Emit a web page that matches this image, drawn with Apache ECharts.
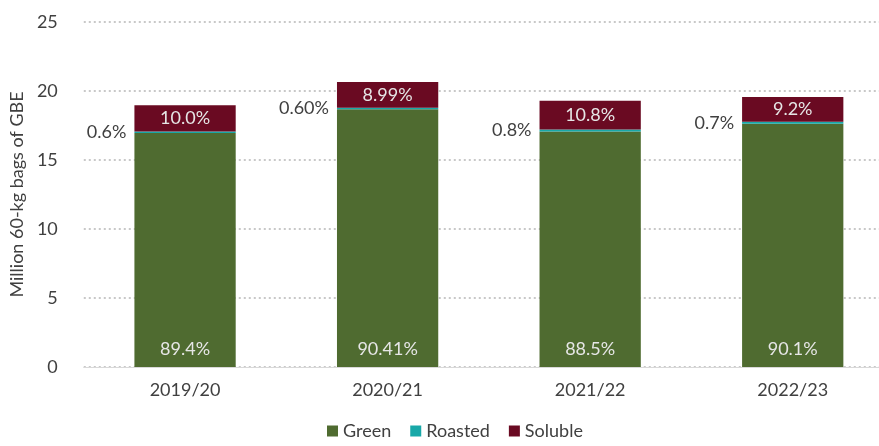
<!DOCTYPE html>
<html>
<head>
<meta charset="utf-8">
<script src="https://cdn.jsdelivr.net/npm/echarts@6/dist/echarts.min.js"></script>
<style>
  html, body { margin: 0; padding: 0; background: #fff; overflow: hidden; }
  #main { width: 894px; height: 446px; }
</style>
</head>
<body>
<div id="main"></div>
<script>
var years = ['2019/20', '2020/21', '2021/22', '2022/23'];
var green = [16.96, 18.67, 17.06, 17.63];
var roasted = [0.11, 0.12, 0.15, 0.14];
var soluble = [1.90, 1.86, 2.08, 1.80];
var greenPct = ['89.4%', '90.41%', '88.5%', '90.1%'];
var roastedPct = ['0.6%', '0.60%', '0.8%', '0.7%'];
var solublePct = ['10.0%', '8.99%', '10.8%', '9.2%'];

var font = 'Lato, "Open Sans", sans-serif';

window.onload = function () {
    // chart canvas is a bit wider than the window, the plot runs off the right edge like the original
    var chart = echarts.init(document.getElementById('main'));
    var option = {
        animation: false,
        textStyle: { fontFamily: font },
        legend: {
            bottom: 1,
            left: 322,
            itemWidth: 11,
            itemHeight: 11,
            itemGap: 19,
            icon: 'rect',
            textStyle: { fontSize: 18, color: '#404040', fontFamily: font },
            data: ['Green', 'Roasted', 'Soluble']
        },
        grid: { left: 83.5, right: 0, top: 22, bottom: 79 },
        xAxis: {
            type: 'category',
            data: years,
            axisTick: { show: false },
            axisLine: { lineStyle: { color: '#d9d9d9', width: 1 } },
            axisLabel: { fontSize: 18, color: '#404040', margin: 14, fontFamily: font }
        },
        yAxis: {
            type: 'value',
            min: 0,
            max: 25,
            interval: 5,
            name: 'Million 60-kg bags of GBE',
            nameLocation: 'middle',
            nameGap: 52,
            nameTextStyle: { fontSize: 18, color: '#404040', fontFamily: font },
            axisLine: { show: false },
            axisTick: { show: false },
            axisLabel: { fontSize: 18, color: '#404040', margin: 26, fontFamily: font },
            splitLine: { lineStyle: { color: '#c8c8c8', type: [2, 3], width: 2 } }
        },
        series: [{
            name: 'Green',
            type: 'bar',
            stack: 'total',
            barWidth: '50%',
            itemStyle: { color: '#4f6b30' },
            label: {
                show: true,
                position: 'insideBottom',
                distance: 9,
                fontSize: 18,
                color: '#e6e6e6',
                fontFamily: font,
                formatter: function (p) { return greenPct[p.dataIndex]; }
            },
            data: green
        }, {
            name: 'Roasted',
            type: 'bar',
            stack: 'total',
            itemStyle: { color: '#18a8a8' },
            label: {
                show: true,
                position: 'left',
                distance: 8,
                fontSize: 18,
                color: '#404040',
                fontFamily: font,
                formatter: function (p) { return roastedPct[p.dataIndex]; }
            },
            data: roasted
        }, {
            name: 'Soluble',
            type: 'bar',
            stack: 'total',
            itemStyle: { color: '#6a0a22' },
            label: {
                show: true,
                position: 'inside',
                fontSize: 18,
                color: '#e6e6e6',
                fontFamily: font,
                formatter: function (p) { return solublePct[p.dataIndex]; }
            },
            data: soluble
        }]
    };
    chart.setOption(option);
};
</script>
</body>
</html>
